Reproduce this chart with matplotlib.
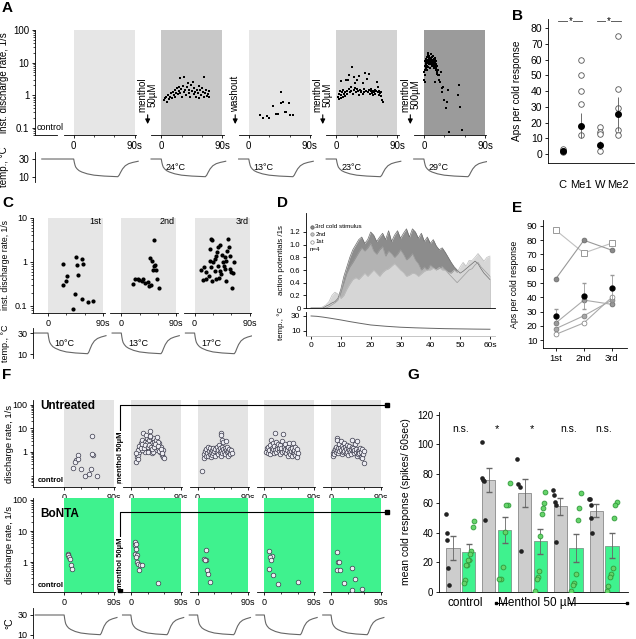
import matplotlib
matplotlib.use("Agg")
import matplotlib.pyplot as plt
import numpy as np
from matplotlib.transforms import blended_transform_factory as blend
from matplotlib.ticker import NullFormatter

plt.rcParams['font.family'] = ['Liberation Sans', 'DejaVu Sans']
plt.rcParams['font.size'] = 7
plt.rcParams['axes.linewidth'] = 0.6
plt.rcParams['xtick.major.width'] = 0.6
plt.rcParams['ytick.major.width'] = 0.6
plt.rcParams['xtick.minor.width'] = 0.5
plt.rcParams['ytick.minor.width'] = 0.5
plt.rcParams['xtick.major.size'] = 2.5
plt.rcParams['ytick.major.size'] = 2.5
plt.rcParams['xtick.minor.size'] = 1.5
plt.rcParams['ytick.minor.size'] = 1.5
plt.rcParams['xtick.major.pad'] = 2
plt.rcParams['ytick.major.pad'] = 1.5

# ---------------- data ----------------
# temperature ramp (s from ramp start, deg C)
temp_t = [-15, 0, 1, 2, 3, 5, 8, 12, 20, 30, 45, 65, 67, 69, 72, 76, 81, 87, 95]
temp_v = [30, 30, 26, 23, 21, 19, 17, 15.5, 13.5, 12, 11, 10.3, 12, 15, 19, 22.5, 24.8, 26.2, 27.5]

# A: instantaneous discharge rate (t in s, rate 1/s)
a_m50 = [(3.4, 0.70), (4.9, 0.79), (6.9, 0.89), (8.4, 0.62), (9.8, 1.0), (10.8, 0.78),
         (12.3, 0.88), (14.3, 1.12), (15.7, 0.83), (17.2, 1.26), (18.2, 1.0), (19.7, 1.42),
         (20.6, 0.89), (22.1, 1.12), (23.1, 1.6), (24.1, 1.05), (25.6, 1.3), (26.5, 1.8),
         (27.0, 3.24), (28.0, 1.12), (29.5, 1.5), (30.5, 0.89), (32.0, 1.9), (33.0, 1.26),
         (33.9, 3.5), (35.4, 1.42), (36.4, 1.0), (37.9, 1.75), (38.8, 2.27), (40.3, 1.15),
         (41.3, 1.45), (42.8, 0.89), (43.8, 2.0), (45.2, 1.3), (46.2, 2.5), (47.7, 1.05),
         (48.7, 1.6), (50.1, 1.26), (51.1, 0.89), (52.6, 1.42), (53.6, 1.12), (55.1, 1.85),
         (56.0, 0.79), (57.5, 1.42), (58.5, 1.0), (60.0, 1.7), (61.0, 1.26), (62.4, 3.64),
         (63.4, 0.89), (64.9, 1.12), (66.4, 1.45), (67.4, 0.95), (68.3, 1.05), (69.8, 1.3),
         (70.8, 0.89)]
a_wash = [(15.8, 0.24), (20.7, 0.20), (26.6, 0.23), (30.5, 0.20), (36.4, 0.46), (39.4, 0.27),
          (42.8, 0.26), (46.8, 1.26), (47.8, 0.55), (50.2, 0.60), (52.7, 0.30), (55.0, 0.30),
          (58.6, 0.55), (61.0, 0.25), (65.0, 0.24)]
a_m50b = [(2.5, 0.85), (3.4, 1.1), (4.5, 0.75), (5.5, 1.3), (6.4, 2.7), (6.4, 0.79), (7.5, 1.0),
          (8.5, 1.2), (9.5, 0.9), (10.5, 1.4), (11.5, 1.1), (12.5, 1.25), (13.5, 0.95), (14.0, 2.9),
          (15.0, 1.3), (16.0, 1.05), (17.4, 2.9), (18.0, 1.5), (19.0, 4.1), (20.0, 1.2), (21.0, 1.8),
          (22.0, 1.35), (23.6, 7.1), (24.0, 1.1), (25.5, 3.7), (26.0, 1.4), (27.0, 1.6), (28.0, 2.3),
          (29.0, 1.25), (30.0, 1.5), (31.0, 2.9), (32.0, 1.3), (33.0, 1.0), (34.0, 3.8), (35.0, 1.45),
          (36.0, 1.2), (37.0, 1.35), (38.6, 2.3), (39.5, 1.1), (40.5, 1.5), (41.5, 1.25), (42.6, 4.6),
          (43.5, 1.3), (45.0, 3.2), (46.0, 1.2), (47.5, 4.4), (48.5, 1.4), (49.5, 1.05), (50.5, 1.3),
          (51.5, 1.5), (52.5, 1.15), (53.5, 1.35), (54.5, 1.0), (55.5, 1.25), (56.5, 1.4), (57.5, 1.1),
          (58.5, 1.3), (60.0, 2.6), (61.0, 1.8), (61.5, 1.2), (62.5, 1.0), (63.5, 1.35), (64.5, 1.15),
          (65.5, 1.25), (66.5, 0.95), (67.0, 0.70), (69.0, 0.62)]
a_m500 = [(0.5, 3.0), (0.8, 5.0), (1.0, 8.0), (1.5, 11), (2.0, 6.0), (2.5, 9.0), (3.0, 13), (3.5, 7.0),
          (4.0, 10), (4.5, 15), (5.0, 8.0), (5.5, 12), (6.0, 17), (6.5, 19), (7.0, 14), (7.5, 10),
          (8.0, 16), (8.5, 12), (9.0, 9.0), (9.5, 14), (10, 11), (10.5, 18), (11, 13), (11.5, 8.0),
          (12, 15), (12.5, 10), (13, 12), (13.5, 16), (14, 9.0), (14.5, 13), (15, 11), (15.5, 7.0),
          (16, 14), (16.5, 10), (17, 12), (17.5, 6.0), (18, 9.0), (18.5, 11), (19, 5.0), (19.5, 8.0),
          (20, 4.5), (21, 6.0), (21, 4.1), (22, 3.0), (23, 4.0), (24, 2.5), (25, 5.0), (26, 1.6),
          (26, 1.27), (16, 2.6), (2, 4.0), (1, 2.5), (3, 9.5), (5, 11), (7, 9.0), (9, 7.0), (11, 10),
          (13, 8.0), (15, 9.5), (17, 8.5), (4, 6.0), (6, 7.5), (8, 11), (10, 13), (12, 9.0), (14, 11),
          (16, 8.0), (18, 7.0), (2.5, 12), (4.5, 11), (7, 16), (9, 13), (28.5, 1.8), (30, 0.7),
          (32, 0.39), (33.4, 0.62), (36, 1.43), (37, 0.074), (50.6, 1.0), (52, 2.0), (53, 0.44),
          (56.5, 0.085)]
a_thresh = ['24°C', '13°C', '23°C', '29°C']

# B: APs per cold response
b_labels = ['C', 'Me1', 'W', 'Me2']
b_points = [[3, 2, 1], [60, 50, 40, 32, 12], [17, 14, 13, 2], [75, 41, 29, 15, 12]]
b_mean = [2, 18, 5.5, 25.4]
b_sem = [1, 8, 2.5, 11]

# C: three successive cold stimuli
c1 = [(25, 0.9), (25, 0.30), (29, 0.37), (30.6, 0.47), (45.8, 1.32), (48, 0.85), (49.6, 0.5),
      (56, 1.17), (57.8, 0.88), (44.7, 0.19), (40.4, 0.083), (55, 0.14), (65, 0.12), (73, 0.13)]
c2 = [(18.5, 0.31), (22.9, 0.41), (26.7, 0.42), (29.5, 0.39), (33.8, 0.37), (36, 0.42),
      (39.3, 0.34), (43, 0.35), (45.8, 0.28), (48.6, 0.30), (50.2, 1.07), (52.4, 0.67), (54, 0.82),
      (55.6, 0.85), (56.7, 0.67), (57.8, 0.41), (62.2, 0.26), (54, 3.1), (47, 1.2)]
c3 = [(10.9, 0.67), (14.7, 0.76), (18, 0.6), (13.6, 0.39), (19.1, 0.41), (23.5, 0.48), (27.3, 0.76),
      (25.6, 1.07), (24.5, 1.99), (27.3, 3.38), (28.9, 3.1), (30, 0.98), (32.7, 1.17), (34.4, 1.4),
      (36.6, 1.67), (38.2, 2.18), (40.9, 2.37), (35.5, 0.41), (39.8, 0.44), (43.6, 0.53),
      (46.4, 0.98), (48, 0.82), (49.1, 1.28), (51.8, 1.07), (52.9, 1.82), (54.6, 3.38),
      (56.2, 2.18), (57.3, 1.4), (58.4, 0.69), (60, 0.58), (62.8, 0.56), (61.7, 0.25),
      (63.8, 1.02), (50.7, 0.37), (42, 0.63), (45.3, 1.45), (38.2, 0.82), (32.7, 0.63),
      (28.9, 0.37), (49.1, 0.69)]
c_names = ['1st', '2nd', '3rd']
c_thresh = ['10°C', '13°C', '17°C']

# D: mean action potentials per 1 s bin, 0..60 s
d_3rd = [0, 0, 0, 0, 0, 0.03, 0.05, 0.08, 0.1, 0.15, 0.3, 0.5, 0.65, 0.8, 0.92,
         1.0, 1.08, 1.12, 1.02, 1.08, 1.2, 1.15, 1.05, 1.12, 1.18, 1.08, 1.22, 1.05, 1.15, 1.22,
         1.1, 1.18, 1.25, 1.12, 1.25, 1.2, 1.1, 1.18, 1.05, 1.12, 1.02, 1.08, 0.98, 0.92, 0.95,
         0.88, 0.8, 0.72, 0.65, 0.6, 0.55, 0.58, 0.62, 0.66, 0.7, 0.74, 0.7, 0.62, 0.55, 0.5, 0.45]
d_2nd = [0, 0, 0, 0, 0, 0, 0.02, 0.05, 0.08, 0.12, 0.25, 0.4, 0.55, 0.65, 0.72,
         0.8, 0.88, 0.95, 0.9, 0.95, 1.02, 0.9, 0.85, 0.92, 0.97, 0.82, 0.9, 0.86, 0.8, 0.85,
         0.92, 0.85, 0.76, 0.8, 0.86, 0.76, 0.7, 0.6, 0.65, 0.6, 0.68, 0.64, 0.6, 0.62, 0.66,
         0.6, 0.55, 0.5, 0.45, 0.4, 0.45, 0.5, 0.55, 0.6, 0.62, 0.68, 0.72, 0.65, 0.6, 0.55, 0.5]
d_1st = [0, 0, 0, 0, 0.02, 0.05, 0.1, 0.2, 0.25, 0.22, 0.15, 0.2, 0.3, 0.38, 0.45,
         0.48, 0.45, 0.5, 0.55, 0.5, 0.55, 0.6, 0.55, 0.5, 0.56, 0.6, 0.62, 0.66, 0.7, 0.65,
         0.6, 0.56, 0.5, 0.52, 0.55, 0.54, 0.5, 0.54, 0.58, 0.6, 0.6, 0.63, 0.6, 0.64, 0.6,
         0.6, 0.56, 0.55, 0.6, 0.56, 0.65, 0.72, 0.66, 0.75, 0.75, 0.8, 0.86, 0.8, 0.74, 0.8, 0.82]
d_temp_t = [0, 2, 4, 6, 8, 10, 13, 16, 20, 25, 30, 35, 40, 45, 50, 55, 60]
d_temp_v = [30, 29.5, 28.5, 27.3, 26, 24.7, 22.5, 20.5, 18, 16.3, 15, 14.2, 13.6, 13.1, 12.8, 12.5, 12.3]

# E: APs per cold response over 3 stimuli
e_labels = ['1st', '2nd', '3rd']
e_sq = [87, 71, 78]
e_hi = [53, 80, 73]
e_lo1 = [14, 22, 40]
e_lo2 = [22, 38, 35]
e_lo3 = [18, 27, 38]
e_mean = [26.5, 41, 46.5]
e_err = [5.5, 9, 9]

# F: untreated vs BoNTA
fu_ctrl = [(15.6, 0.215), (21.6, 0.46), (24.6, 0.75), (20.4, 0.39), (25.8, 0.49), (30, 0.18),
           (37.8, 0.095), (45.6, 0.12), (49.8, 4.8), (51, 0.75), (49.8, 0.82), (48, 0.19), (58.8, 0.095)]
fu_1 = [(9, 0.39), (11.4, 0.63), (13.2, 0.75), (15, 1.03), (16.2, 1.43), (17.4, 2.34), (19.2, 3.24),
        (21, 1.98), (22.2, 6.2), (23.4, 1.69), (25.2, 2.75), (27, 1.43), (28.2, 3.82), (29.4, 2.34),
        (31.2, 1.69), (33, 3.24), (34.2, 8.0), (35.4, 1.43), (37.2, 2.34), (39, 3.82), (40.2, 1.69),
        (41.4, 2.75), (43.2, 1.22), (45, 3.24), (46.2, 4.5), (47.4, 1.98), (49.2, 1.43), (51, 2.34),
        (52.2, 1.03), (53.4, 1.69), (55.2, 0.75), (57, 1.22), (58.2, 0.63), (59.4, 0.54), (25.2, 1.03),
        (31.2, 1.03), (37.2, 0.88), (43.2, 1.98), (49.2, 2.75), (34.2, 4.5), (19.2, 1.22), (40.2, 1.03),
        (12, 1.2), (14, 1.8), (18, 1.5), (20, 2.2), (24, 1.4), (26, 1.9), (30, 1.6), (32, 2.0),
        (36, 1.7), (38, 1.3), (42, 1.6), (44, 2.1), (48, 1.8), (50, 1.1), (54, 1.3), (56, 0.9),
        (10, 0.9), (13, 0.5), (27, 5.5), (35, 5.0)]
fu_2 = [(8.4, 0.15), (10.8, 0.55), (12, 0.8), (13, 1.1), (14.5, 0.65), (15.6, 1.3), (16.5, 0.9),
        (18, 1.6), (19, 0.7), (20, 1.1), (21.6, 0.85), (22.5, 1.4), (23.5, 0.6), (24.5, 1.0),
        (25.5, 1.2), (26.5, 0.75), (27.6, 1.5), (28.5, 0.9), (29.5, 1.1), (30.5, 0.65), (31.5, 1.3),
        (41.4, 6.6), (42.6, 5.3), (43, 3.3), (34.5, 1.0), (35.5, 1.6), (36.5, 0.8), (37.5, 1.2),
        (38.5, 1.9), (39.6, 1.0), (40.5, 1.4), (41.5, 0.7), (42.5, 1.1), (43.5, 1.7), (44.5, 0.9),
        (45.6, 1.3), (46.5, 2.6), (47.5, 1.0), (48.5, 1.5), (49.5, 0.8), (50.5, 2.8), (51.6, 1.2),
        (52.5, 0.95), (53.5, 1.6), (54.5, 1.1), (55.5, 0.7), (56.5, 1.3), (57.6, 1.0), (58.5, 0.85),
        (60, 1.2), (61.8, 0.9)]
fu_3 = [(3, 1.0), (4.5, 1.4), (6, 0.9), (7.5, 1.6), (9, 1.2), (10, 2.0), (11, 0.8), (12, 3.2),
        (13, 1.5), (14, 1.1), (15, 2.4), (16, 1.3), (17, 0.9), (18, 1.8), (19, 1.2), (19.8, 6.2),
        (20.5, 2.6), (21.5, 1.0), (22.5, 1.6), (23.5, 1.3), (24.5, 2.1), (25.5, 1.1), (26.5, 1.5),
        (27.5, 0.85), (28.5, 1.9), (29.5, 1.2), (30.5, 1.4), (31.5, 3.0), (32.5, 1.0), (34, 5.6),
        (35, 1.6), (36, 1.1), (37, 2.2), (38, 1.3), (39, 0.9), (40, 1.5), (41, 1.2), (42, 0.7),
        (43, 1.7), (44, 1.0), (45, 2.4), (46, 1.3), (47, 0.8), (48, 1.1), (49, 0.65), (50, 1.4),
        (51, 1.0), (52, 2.3), (53, 0.9), (54, 1.2), (55, 0.75), (56, 1.6), (57, 1.0), (58, 0.6),
        (59, 1.3), (60, 0.9)]
fu_4 = [(3, 0.7), (4, 0.9), (5, 1.1), (6, 0.8), (7, 1.3), (8, 1.0), (9, 1.6), (10, 1.2), (11, 3.8),
        (11.5, 3.3), (12, 1.4), (13, 0.9), (14, 2.2), (15, 1.1), (16, 1.5), (17, 2.8), (18, 1.2),
        (19, 0.8), (20, 1.8), (21, 1.0), (22, 1.4), (23, 2.4), (24, 1.1), (25, 1.6), (26, 0.9),
        (27, 1.3), (28, 2.0), (29, 1.0), (30, 1.5), (31, 0.75), (32, 1.2), (33, 1.8), (34, 1.0),
        (35, 1.3), (36, 0.8), (37, 1.6), (38, 3.2), (39, 1.1), (40, 1.4), (41, 0.9), (42, 1.2),
        (43, 2.2), (44, 1.0), (45, 1.3), (46, 0.7), (47, 3.0), (48, 1.1), (49, 0.8), (50, 1.2),
        (51, 0.9), (52, 1.5), (53, 1.0), (54, 0.6), (55, 0.54), (56, 1.3), (57, 0.8), (59, 0.35),
        (60, 1.1)]
fb_ctrl = [(6.6, 1.77), (7.8, 1.64), (9.6, 1.45), (10.8, 1.28), (12.6, 0.78), (14.4, 0.61)]
fb_1 = [(7.2, 4.4), (7.2, 3.45), (9, 3.9), (8.4, 2.7), (7.8, 1.86), (10.2, 1.64), (9, 1.45),
        (11.4, 1.0), (13.2, 0.88), (16.2, 0.78), (19.2, 0.82), (15, 0.54), (49, 0.21)]
fb_2 = [(10.8, 1.28), (15.6, 1.19), (12.6, 1.13), (14.4, 2.38), (16.8, 0.54), (18.6, 0.42), (22.8, 0.23)]
fb_3 = [(7.8, 2.2), (13.8, 1.56), (10.2, 1.45), (12, 1.13), (9, 0.61), (16.2, 0.39), (24, 0.2), (60, 0.23)]
fb_4 = [(10.2, 2.1), (12, 1.0), (14.4, 1.0), (10.2, 0.54), (15.6, 0.54), (23.4, 0.21), (38.4, 0.64),
        (43.2, 0.29), (37.2, 0.13), (56.4, 0.14)]

# G: mean cold response (spikes / 60 s)
g_gray = [30, 76, 67, 58, 55]
g_gray_err = [8, 8, 9.5, 6, 4.5]
g_green = [27, 42, 34.5, 30, 31.5]
g_green_err = [5.4, 8.5, 8.5, 9.5, 8.5]
g_gray_pts = [[53, 40, 35, 16, 5], [102, 77, 76, 75, 49], [90, 73, 71, 28], [69, 66, 61, 59, 34],
              [63, 63, 59, 50, 40]]
g_green_pts = [[48, 44, 28, 26, 22, 22, 18, 18, 8, 6], [74, 59, 59, 41, 17, 9, 9],
               [68, 60, 57, 53, 38, 14, 10, 9, 1], [67, 57, 49, 12, 6, 5, 1],
               [61, 59, 50, 16, 12, 10, 4, 1]]
g_sig = ['n.s.', '*', '*', 'n.s.', 'n.s.']

# ---------------- figure ----------------
W, H = 636, 639
fig = plt.figure(figsize=(W / 100, H / 100), dpi=100)
GREEN = '#3ff28e'
TEMPC = '#666666'


def px_axes(l, t, r, b):
    return fig.add_axes([l / W, 1 - b / H, (r - l) / W, (b - t) / H])


def broken_xaxis(ax, spans, offsets, fs=7):
    ax.spines[['top', 'right', 'bottom']].set_visible(False)
    tr = blend(ax.transData, ax.transAxes)
    for a, b in spans:
        ax.plot([a, b], [0, 0], color='k', lw=0.6, transform=tr, clip_on=False)
    ax.set_xticks([o + s for o in offsets for s in (0, 90)])
    ax.set_xticklabels(['0', '90s'] * len(offsets), fontsize=fs)
    ax.set_xticks([o + s for o in offsets for s in (30, 60)], minor=True)


def log_y(ax, lo, hi, ticks, fs=7):
    ax.set_yscale('log')
    ax.set_ylim(lo, hi)
    ax.set_yticks(ticks)
    ax.set_yticklabels(['%g' % t for t in ticks], fontsize=fs)
    ax.yaxis.set_minor_formatter(NullFormatter())


def temp_row(ax, offsets, first_start, xlim, ylim, fs=7):
    for i, o in enumerate(offsets):
        tt = [o + t for t in temp_t]
        vv = list(temp_v)
        if i == 0:
            tt = [o + first_start] + tt
            vv = [30] + vv
        ax.plot(tt, vv, color=TEMPC, lw=0.8)
    ax.set_xlim(*xlim)
    ax.set_ylim(*ylim)
    ax.spines[['top', 'right', 'bottom']].set_visible(False)
    ax.set_xticks([])
    ax.set_yticks([10, 30])
    ax.tick_params(axis='y', labelsize=fs)


def scatter_segs(ax, offsets, sets, **kw):
    for o, pts in zip(offsets, sets):
        t, v = zip(*pts)
        ax.scatter(np.array(t) + o, v, **kw)


def letter(x, y, s):
    fig.text(x / W, 1 - y / H, s, fontsize=11, fontweight='bold', va='top', ha='left')


# ---- A ----
a_off = [0, 129, 258, 387, 516]
a_shade = ['#e6e6e6', '#c8c8c8', '#e6e6e6', '#d3d3d3', '#9b9b9b']
axA = px_axes(35, 30, 487, 135)
axA.set_xlim(-57, 609)
log_y(axA, 0.059, 100, [0.1, 1, 10, 100])
for o, c in zip(a_off, a_shade):
    axA.axvspan(o, o + 90, color=c, lw=0, zorder=0)
scatter_segs(axA, a_off[1:], [a_m50, a_wash, a_m50b, a_m500], s=3.5, marker='s', color='k', lw=0, zorder=3)
broken_xaxis(axA, [(-57, -25)] + [(o - 15, o + 92) for o in a_off], a_off)
axA.text(-54, 0.1, 'control', fontsize=6.5, va='center')
for x, s in [(109, 'menthol\n50µM'), (238, 'washout'), (367, 'menthol\n50µM'), (496, 'menthol\n500µM')]:
    axA.annotate('', xy=(x, 0.105), xytext=(x, 0.3),
                 arrowprops=dict(arrowstyle='-|>', color='k', lw=0.8, mutation_scale=7))
    axA.text(x, 0.31, s, rotation=90, ha='center', va='bottom', fontsize=7, multialignment='center',
             linespacing=1.0)
axA.set_ylabel('inst. discharge rate, 1/s', fontsize=7)
axA.yaxis.set_label_coords(-0.058, 0.5)

axAT = px_axes(35, 152, 487, 182)
temp_row(axAT, a_off, -47, (-57, 609), (4.4, 37.8))
for o, s in zip(a_off[1:], a_thresh):
    axAT.text(o + 7, 20, s, fontsize=6.5, va='center')
axAT.set_ylabel('temp., °C', fontsize=7)
axAT.yaxis.set_label_coords(-0.058, 0.5)

# ---- B ----
axB = px_axes(548, 18.6, 634, 163)
for i, pts in enumerate(b_points):
    axB.scatter([i] * len(pts), pts, s=16, facecolor='white', edgecolor='#555555', lw=0.6, zorder=3)
axB.errorbar(range(4), b_mean, yerr=b_sem, fmt='o', color='k', ms=4, ecolor='#555555',
             elinewidth=0.6, capsize=0, zorder=4)
axB.set_xlim(-0.79, 3.84)
axB.set_ylim(-5.7, 86)
axB.set_yticks(range(0, 81, 10))
axB.tick_params(axis='y', labelsize=7.5)
axB.set_xticks(range(4))
axB.set_xticklabels(b_labels, fontsize=8)
axB.tick_params(axis='x', length=0, pad=12)
axB.spines[['top', 'right']].set_visible(False)
for a, b, xs in [(-0.26, 1.05, 0.42), (1.84, 3.16, 2.47)]:
    axB.plot([a, b], [84.4, 84.4], color='#444444', lw=0.6)
    axB.text(xs, 84.4, '*', ha='center', va='center', fontsize=7,
             bbox=dict(facecolor='white', edgecolor='none', pad=0.3))
axB.set_ylabel('Aps per cold response', fontsize=7.3)
axB.yaxis.set_label_coords(-0.30, 0.5)

# ---- C ----
c_off = [0, 120, 240]
axC = px_axes(33, 218, 252, 313)
axC.set_xlim(-24.5, 334)
log_y(axC, 0.069, 10, [0.1, 1, 10], fs=6.5)
for o in c_off:
    axC.axvspan(o, o + 90, color='#e6e6e6', lw=0, zorder=0)
scatter_segs(axC, c_off, [c1, c2, c3], s=9, color='k', lw=0, zorder=3)
broken_xaxis(axC, [(-24.5, 93)] + [(o - 18, o + 93) for o in c_off[1:]], c_off, fs=6.5)
for o, s in zip(c_off, c_names):
    axC.text(o + 88, 8.3, s, ha='right', va='center', fontsize=6.5)
axC.set_ylabel('inst. discharge rate, 1/s', fontsize=6.2)
axC.yaxis.set_label_coords(-0.105, 0.5)

axCT = px_axes(33, 328, 252, 358)
temp_row(axCT, c_off, -24.5, (-24.5, 334), (6.2, 34.8), fs=6.5)
for o, s in zip(c_off, c_thresh):
    axCT.text(o + 11, 20, s, fontsize=6.5, va='center')
axCT.set_ylabel('temp., °C', fontsize=6.5)
axCT.yaxis.set_label_coords(-0.105, 0.5)

# ---- D ----
axD = px_axes(306, 213, 495, 308)
d_t = np.arange(len(d_3rd))
for vals, col in [(d_3rd, '#8c8c8c'), (d_2nd, '#b3b3b3'), (d_1st, '#d6d6d6')]:
    axD.fill_between(d_t, 0, vals, color=col, lw=0)
for vals, col in [(d_3rd, '#6e6e6e'), (d_2nd, '#9a9a9a'), (d_1st, '#bdbdbd')]:
    axD.plot(d_t, vals, color=col, lw=0.5)
axD.set_xlim(-1.7, 61.7)
axD.set_ylim(0, 1.5)
dticks = [0, 0.2, 0.4, 0.6, 0.8, 1.0, 1.2]
axD.set_yticks(dticks)
axD.set_yticklabels(['0'] + ['%.1f' % v for v in dticks[1:]], fontsize=5.5)
axD.set_xticks([])
axD.spines[['top', 'right']].set_visible(False)
leg = [('#8c8c8c', '#555555', '3rd cold stimulus'), ('#c4c4c4', '#888888', '2nd'),
       ('white', '#888888', '1st')]
for k, (fc, ec, s) in enumerate(leg):
    yy = 0.853 - k * 0.077
    axD.scatter([0.03], [yy], s=6, facecolor=fc, edgecolor=ec, lw=0.5, transform=axD.transAxes)
    axD.text(0.05, yy, s, fontsize=4.5, va='center', transform=axD.transAxes)
axD.text(0.02, 0.62, 'n=4', fontsize=4.5, va='center', transform=axD.transAxes)
axD.set_ylabel('action potentials /1s', fontsize=5.7)
axD.yaxis.set_label_coords(-0.11, 0.5)

axDT = px_axes(306, 312, 495, 336)
axDT.plot(d_temp_t, d_temp_v, color=TEMPC, lw=0.7)
axDT.set_xlim(-1.7, 61.7)
axDT.set_ylim(3.3, 35.3)
axDT.set_yticks([10, 30])
axDT.set_xticks(range(0, 61, 10))
axDT.set_xticklabels(['0', '10', '20', '30', '40', '50', '60s'])
axDT.tick_params(labelsize=6)
axDT.spines[['top', 'right']].set_visible(False)
axDT.spines['bottom'].set_color('#bbbbbb')
axDT.set_ylabel('temp., °C', fontsize=5.7)
axDT.yaxis.set_label_coords(-0.11, 0.5)

# ---- E ----
axE = px_axes(543, 220, 627, 348)
ex = np.arange(3)
axE.plot(ex, e_sq, color='#c0c0c0', lw=0.8, marker='s', ms=4.5, mfc='white', mec='#999999', mew=0.7)
axE.plot(ex, e_hi, color='#999999', lw=0.8, marker='o', ms=3.5, mfc='#8a8a8a', mec='#666666', mew=0.5)
axE.plot(ex, e_lo2, color='#aaaaaa', lw=0.8, marker='o', ms=3.5, mfc='#999999', mec='#666666', mew=0.5)
axE.plot(ex, e_lo3, color='#aaaaaa', lw=0.8, marker='o', ms=3.5, mfc='#a8a8a8', mec='#777777', mew=0.5)
axE.plot(ex, e_lo1, color='#aaaaaa', lw=0.8, marker='o', ms=3.5, mfc='white', mec='#777777', mew=0.5)
axE.errorbar(ex, e_mean, yerr=e_err, fmt='o', color='k', ms=3.5, ecolor='#999999', elinewidth=0.6,
             capsize=1.5, zorder=5)
axE.set_xlim(-0.46, 2.54)
axE.set_ylim(4.4, 94.2)
axE.set_yticks(range(10, 91, 10))
axE.set_xticks(ex)
axE.set_xticklabels(e_labels)
axE.tick_params(labelsize=6.8)
axE.spines[['top', 'right']].set_visible(False)
axE.set_ylabel('Aps per cold response', fontsize=6.3)
axE.yaxis.set_label_coords(-0.286, 0.5)

# ---- F ----
f_off = [0, 120, 240, 360, 480]
fmark = dict(s=11, facecolor='#eeeef4', edgecolor='#3a3a4a', lw=0.5, zorder=3)
rows = [((33, 400, 390, 487), (0.032, 163), '#e4e4e4', [fu_ctrl, fu_1, fu_2, fu_3, fu_4],
         'Untreated', 0.93, 100, 0.064, 0.61),
        ((33, 498, 390, 592), (0.108, 116), GREEN, [fb_ctrl, fb_1, fb_2, fb_3, fb_4],
         'BoNTA', 0.83, 40, 0.125, 0.93)]
for box, yl, shade, sets, title, ty, yb, ydot, ytxt in rows:
    ax = px_axes(*box)
    ax.set_xlim(-56, 586)
    log_y(ax, yl[0], yl[1], [1, 10, 100], fs=6.5)
    for o in f_off:
        ax.axvspan(o, o + 90, color=shade, lw=0, zorder=0)
    scatter_segs(ax, f_off, sets, **fmark)
    broken_xaxis(ax, [(-56, 92)] + [(o - 14, o + 92) for o in f_off[1:]], f_off, fs=6.5)
    ax.plot([100.7, 100.7, 581], [ydot, yb, yb], color='k', lw=0.8, clip_on=False, zorder=4)
    ax.plot([100.7, 581], [ydot, yb], 's', color='k', ms=2.2, clip_on=False, zorder=4)
    ax.text(100.7, ytxt, 'menthol 50µM', rotation=90, ha='center', va='center', fontsize=5.5,
            fontweight='bold', zorder=5, bbox=dict(facecolor='white', edgecolor='none', pad=0.2))
    ax.text(0.02, ty, title, transform=ax.transAxes, fontsize=8.5, fontweight='bold', va='center')
    ax.text(0.012, 0.07, 'control', transform=ax.transAxes, fontsize=5.5, fontweight='bold', va='center')
    ax.set_ylabel('discharge rate, 1/s', fontsize=6.8)
    ax.yaxis.set_label_coords(-0.052, 0.5)

axFT = px_axes(33, 608, 390, 638)
temp_row(axFT, f_off, -52, (-56, 586), (7, 37), fs=6.5)
axFT.set_ylabel('°C', fontsize=7.5)
axFT.yaxis.set_label_coords(-0.052, 0.5)

# ---- G ----
axG = px_axes(439, 412, 628, 592)
xg = np.arange(5)
bw = 0.37
axG.bar(xg, g_gray, width=bw, color='#cdcdcd', edgecolor='#8a8a8a', lw=0.6, zorder=1)
axG.bar(xg + 0.44, g_green, width=bw, color=GREEN, edgecolor='#7a9a88', lw=0.6, zorder=1)
axG.errorbar(xg, g_gray, yerr=g_gray_err, fmt='none', ecolor='#666666', elinewidth=0.6, capsize=2, zorder=2)
axG.errorbar(xg + 0.44, g_green, yerr=g_green_err, fmt='none', ecolor='#666666', elinewidth=0.6,
             capsize=2, zorder=2)
for i, pts in enumerate(g_gray_pts):
    xs = i - 0.2 + np.linspace(0, 0.09, len(pts))
    axG.scatter(xs, pts, s=11, color='#222222', lw=0, zorder=3)
for i, pts in enumerate(g_green_pts):
    xs = i + 0.44 + np.linspace(-0.14, 0.14, len(pts))[::-1]
    axG.scatter(xs, pts, s=12, facecolor='#66d46a', edgecolor='#2f9a3a', lw=0.6, zorder=3)
for i, s in enumerate(g_sig):
    axG.text(i + 0.22, 110.5, s, ha='center', va='center', fontsize=8 if s == '*' else 7.5)
axG.set_xlim(-0.39, 4.89)
axG.set_ylim(0, 122)
axG.set_yticks(range(0, 121, 20))
axG.set_xticks([])
axG.tick_params(labelsize=7)
axG.spines[['top', 'right']].set_visible(False)
axG.set_ylabel('mean cold response (spikes/ 60sec)', fontsize=7.5)
axG.yaxis.set_label_coords(-0.148, 0.5)
trG = blend(axG.transData, axG.transAxes)
axG.text(0.35, -0.062, 'control', transform=trG, ha='center', va='center', fontsize=8.5)
axG.plot([1.19, 1.5], [-0.062, -0.062], color='k', lw=0.7, transform=trG, clip_on=False)
axG.plot([3.22, 4.86], [-0.062, -0.062], color='k', lw=0.7, transform=trG, clip_on=False)
axG.plot([1.19, 4.86], [-0.062, -0.062], 's', color='k', ms=2, transform=trG, clip_on=False)
axG.text(2.36, -0.062, 'Menthol 50 µM', transform=trG, ha='center', va='center', fontsize=8.5)

# ---- panel letters ----
for x, y, s in [(2, 1, 'A'), (512, 9, 'B'), (2, 196, 'C'), (277, 196, 'D'), (512, 201, 'E'),
                (2, 368, 'F'), (407, 368, 'G')]:
    letter(x, y, s)

fig.savefig('out.png', dpi=100)
